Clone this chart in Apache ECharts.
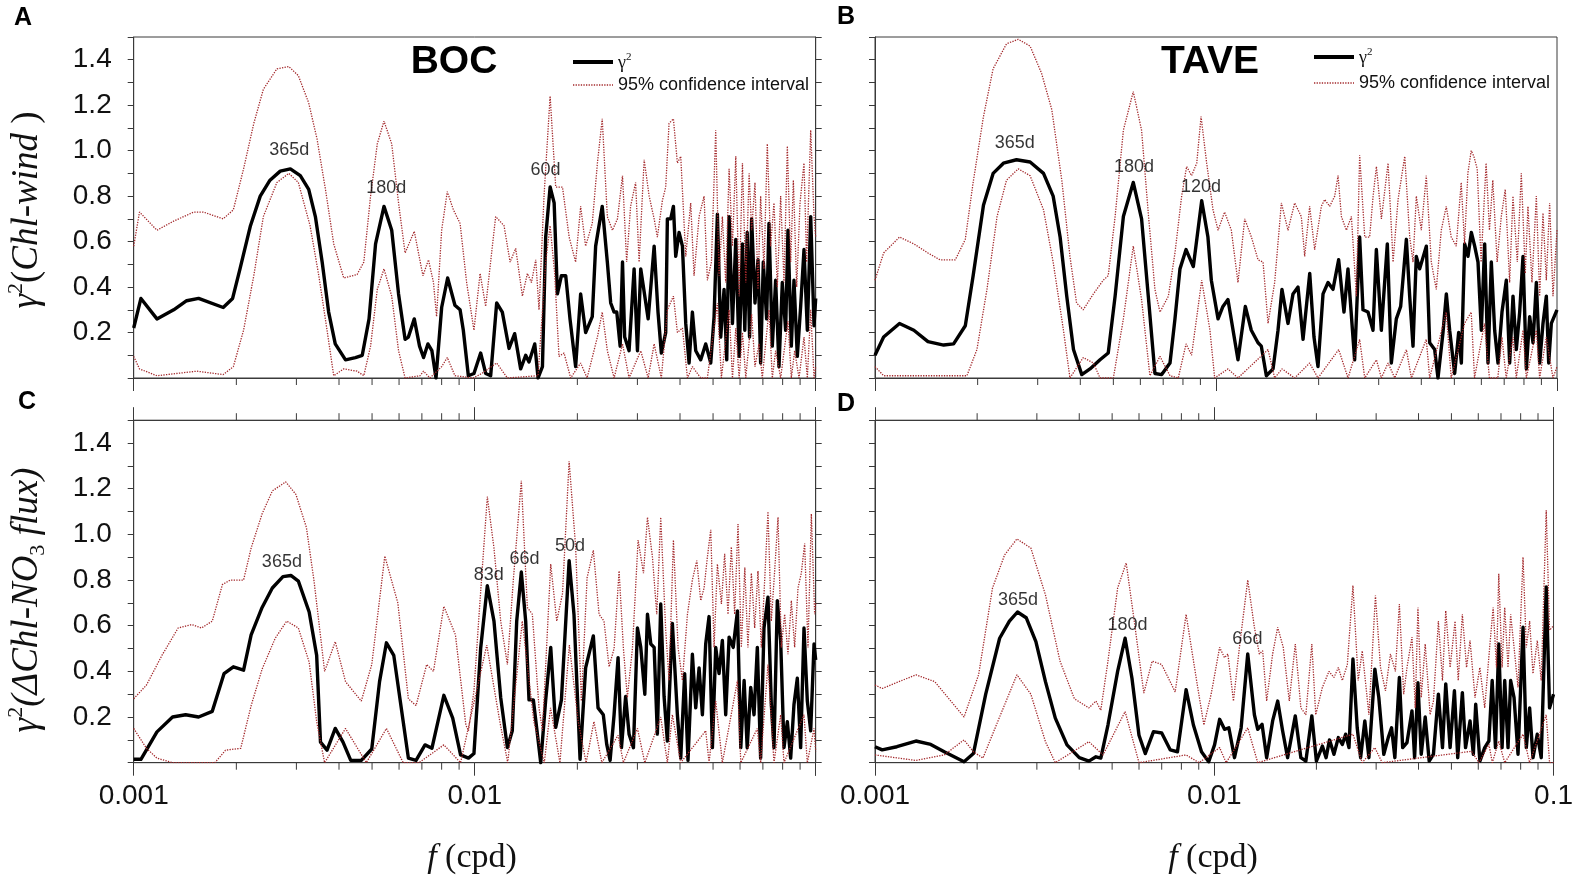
<!DOCTYPE html>
<html><head><meta charset="utf-8">
<script src="https://cdn.jsdelivr.net/npm/echarts@6/dist/echarts.min.js"></script>
<style>html,body{margin:0;padding:0;background:#fff}#chart{width:1576px;height:879px}</style>
</head><body><div id="chart"></div>
<script>
// ---------------- DATA (frequency in cpd, value of gamma^2) ----------------
const aGamma = [[0.001,0.22],[0.00105,0.35],[0.00117,0.26],[0.00131,0.30],[0.00143,0.34],[0.00155,0.35],[0.00183,0.31],[0.00195,0.35],[0.00205,0.48],[0.0022,0.67],[0.00235,0.80],[0.00251,0.87],[0.00269,0.91],[0.00288,0.92],[0.00308,0.89],[0.00326,0.83],[0.00341,0.71],[0.00357,0.51],[0.00373,0.29],[0.0039,0.15],[0.00418,0.08],[0.00447,0.09],[0.00468,0.10],[0.0049,0.26],[0.00512,0.59],[0.00542,0.755],[0.00571,0.65],[0.00598,0.37],[0.00625,0.17],[0.00639,0.18],[0.00665,0.26],[0.00689,0.14],[0.00708,0.09],[0.00729,0.15],[0.00749,0.12],[0.0077,0.0],[0.008,0.31],[0.00833,0.44],[0.00875,0.32],[0.00906,0.30],[0.00926,0.21],[0.00958,0.01],[0.00995,0.02],[0.01041,0.11],[0.01077,0.02],[0.01114,0.01],[0.0116,0.33],[0.01205,0.29],[0.01261,0.13],[0.0131,0.195],[0.01364,0.04],[0.01411,0.10],[0.01443,0.07],[0.015,0.15],[0.01534,0.0],[0.0158,0.05],[0.01615,0.62],[0.01664,0.84],[0.0171,0.77],[0.01748,0.37],[0.01796,0.45],[0.01849,0.45],[0.01903,0.26],[0.01977,0.05],[0.02045,0.37],[0.02115,0.20],[0.02212,0.27],[0.02263,0.58],[0.02366,0.755],[0.02449,0.51],[0.02505,0.33],[0.02563,0.29],[0.0261,0.29],[0.0267,0.14],[0.02713,0.51],[0.02753,0.18],[0.02836,0.12],[0.02934,0.48],[0.03001,0.12],[0.03069,0.48],[0.03154,0.36],[0.03226,0.26],[0.03284,0.40],[0.03359,0.58],[0.03448,0.29],[0.03527,0.11],[0.03632,0.20],[0.03673,0.70],[0.03757,0.70],[0.03826,0.755],[0.03886,0.535],[0.03975,0.64],[0.04066,0.58],[0.04158,0.24],[0.04253,0.066],[0.04349,0.29],[0.04448,0.12],[0.04601,0.08],[0.04758,0.15],[0.04923,0.066],[0.05035,0.27],[0.05149,0.72],[0.05266,0.18],[0.05386,0.39],[0.05485,0.08],[0.05573,0.71],[0.057,0.24],[0.0583,0.61],[0.05963,0.095],[0.06098,0.59],[0.06196,0.21],[0.06297,0.64],[0.06398,0.18],[0.06489,0.70],[0.06637,0.33],[0.06773,0.52],[0.06895,0.066],[0.0702,0.51],[0.0718,0.26],[0.07294,0.68],[0.0746,0.14],[0.0763,0.43],[0.07804,0.05],[0.07982,0.42],[0.08164,0.21],[0.08293,0.65],[0.08483,0.14],[0.08636,0.43],[0.08833,0.095],[0.09034,0.315],[0.0924,0.565],[0.09451,0.21],[0.09668,0.71],[0.09888,0.23],[0.1,0.35]];
const aUpper = [[0.001,0.58],[0.00104,0.73],[0.00117,0.65],[0.00131,0.69],[0.0015,0.73],[0.0016,0.73],[0.00183,0.70],[0.00196,0.74],[0.0021,0.92],[0.00225,1.12],[0.0024,1.27],[0.00263,1.36],[0.00285,1.37],[0.00304,1.33],[0.00326,1.21],[0.00345,1.05],[0.00365,0.83],[0.00386,0.59],[0.00413,0.44],[0.00452,0.455],[0.00473,0.51],[0.00495,0.80],[0.00518,1.03],[0.00542,1.13],[0.00571,1.03],[0.00598,0.77],[0.00625,0.55],[0.00665,0.645],[0.00705,0.45],[0.00732,0.52],[0.00757,0.42],[0.00773,0.27],[0.008,0.65],[0.00831,0.82],[0.00866,0.74],[0.00906,0.68],[0.00947,0.42],[0.00995,0.21],[0.01037,0.46],[0.01077,0.315],[0.01152,0.71],[0.01219,0.67],[0.0127,0.51],[0.01319,0.57],[0.0138,0.36],[0.01427,0.46],[0.01467,0.42],[0.0151,0.52],[0.01544,0.30],[0.01597,0.80],[0.01664,1.24],[0.01728,0.84],[0.01809,0.84],[0.01892,0.62],[0.01977,0.51],[0.02045,0.755],[0.02115,0.58],[0.02212,0.68],[0.0229,0.945],[0.02366,1.14],[0.02449,0.71],[0.02534,0.65],[0.02622,0.70],[0.02713,0.89],[0.0279,0.51],[0.02865,0.755],[0.02964,0.86],[0.03035,0.51],[0.0314,0.96],[0.03248,0.80],[0.03359,0.70],[0.03433,0.62],[0.03551,0.78],[0.03632,0.84],[0.03715,1.12],[0.03826,1.14],[0.0393,0.945],[0.0402,0.975],[0.04158,0.535],[0.043,0.77],[0.04398,0.45],[0.0455,0.71],[0.04706,0.80],[0.04812,0.43],[0.04946,0.51],[0.05091,1.09],[0.05207,0.45],[0.05325,0.71],[0.05446,0.42],[0.05573,0.92],[0.057,0.58],[0.0583,0.975],[0.05963,0.36],[0.06098,0.945],[0.06237,0.42],[0.06379,0.90],[0.06489,0.65],[0.06637,0.86],[0.06773,0.39],[0.06895,0.80],[0.07052,0.48],[0.07212,1.03],[0.07377,0.58],[0.07545,0.77],[0.07717,0.40],[0.07893,0.80],[0.08073,0.42],[0.08257,1.02],[0.08445,0.51],[0.086,0.87],[0.08796,0.40],[0.08996,0.77],[0.0924,0.945],[0.09406,0.51],[0.09668,1.09],[0.09888,0.71],[0.1,0.62]];
const aLower = [[0.001,0.095],[0.00104,0.04],[0.00117,0.01],[0.00153,0.03],[0.00183,0.015],[0.00196,0.05],[0.0021,0.21],[0.00225,0.45],[0.0024,0.71],[0.00263,0.86],[0.00285,0.90],[0.00304,0.86],[0.00329,0.67],[0.00349,0.45],[0.00369,0.21],[0.00386,0.01],[0.00413,0.04],[0.00452,0.03],[0.00473,0.01],[0.00495,0.14],[0.00518,0.39],[0.00542,0.48],[0.00571,0.36],[0.00598,0.12],[0.00625,0.0],[0.00692,0.01],[0.00708,0.03],[0.00739,0.0],[0.008,0.05],[0.00831,0.09],[0.00875,0.01],[0.0099,0.0],[0.0105,0.02],[0.0116,0.066],[0.01247,0.0],[0.01534,0.01],[0.01615,0.51],[0.01664,0.67],[0.01716,0.46],[0.01767,0.095],[0.01828,0.11],[0.01912,0.0],[0.02045,0.066],[0.02136,0.0],[0.0229,0.18],[0.02366,0.29],[0.02449,0.12],[0.02563,0.0],[0.02713,0.15],[0.02836,0.0],[0.03069,0.12],[0.03226,0.0],[0.03359,0.15],[0.03527,0.0],[0.03673,0.30],[0.03826,0.36],[0.0393,0.20],[0.04066,0.22],[0.04206,0.0],[0.04349,0.05],[0.04601,0.0],[0.04812,0.0],[0.05149,0.33],[0.0529,0.0],[0.05573,0.30],[0.057,0.0],[0.0583,0.22],[0.05963,0.0],[0.06098,0.20],[0.06237,0.0],[0.06489,0.28],[0.06637,0.05],[0.06819,0.15],[0.06972,0.0],[0.07294,0.30],[0.0746,0.0],[0.0763,0.12],[0.07893,0.0],[0.08293,0.25],[0.08483,0.0],[0.08675,0.12],[0.08936,0.0],[0.0924,0.18],[0.09451,0.0],[0.09668,0.30],[0.09888,0.0],[0.1,0.05]];

const bGamma = [[0.001,0.10],[0.00106,0.18],[0.00118,0.24],[0.0013,0.21],[0.00143,0.16],[0.00159,0.145],[0.0017,0.15],[0.00184,0.23],[0.00194,0.45],[0.00208,0.76],[0.00222,0.90],[0.00238,0.945],[0.0026,0.96],[0.00285,0.95],[0.00312,0.90],[0.00333,0.80],[0.00349,0.62],[0.00365,0.36],[0.00382,0.125],[0.00404,0.015],[0.00427,0.04],[0.00457,0.08],[0.00483,0.11],[0.00506,0.36],[0.00535,0.71],[0.00572,0.86],[0.00605,0.70],[0.00633,0.36],[0.00662,0.02],[0.00693,0.015],[0.00733,0.066],[0.00758,0.26],[0.00784,0.48],[0.00817,0.565],[0.00858,0.49],[0.00908,0.78],[0.00947,0.62],[0.00969,0.43],[0.01014,0.26],[0.01048,0.315],[0.01084,0.345],[0.0116,0.08],[0.01219,0.315],[0.01269,0.21],[0.01328,0.155],[0.01358,0.14],[0.01405,0.01],[0.0147,0.04],[0.0152,0.21],[0.01561,0.39],[0.01626,0.24],[0.01682,0.37],[0.0174,0.40],[0.018,0.17],[0.01883,0.46],[0.01938,0.18],[0.01991,0.05],[0.0206,0.37],[0.02131,0.42],[0.02203,0.39],[0.02289,0.52],[0.02373,0.29],[0.02438,0.48],[0.0255,0.08],[0.02638,0.62],[0.02698,0.30],[0.02791,0.29],[0.02887,0.21],[0.02953,0.565],[0.03054,0.21],[0.0318,0.59],[0.03267,0.066],[0.03379,0.26],[0.0348,0.315],[0.03616,0.61],[0.03698,0.36],[0.03782,0.14],[0.03867,0.535],[0.03956,0.48],[0.04138,0.58],[0.04232,0.155],[0.04378,0.125],[0.04477,0.0],[0.04631,0.20],[0.04737,0.37],[0.04844,0.21],[0.05011,0.02],[0.05148,0.20],[0.05242,0.066],[0.05361,0.59],[0.05483,0.535],[0.05608,0.64],[0.05736,0.58],[0.05866,0.51],[0.05999,0.21],[0.06136,0.59],[0.06276,0.066],[0.06418,0.51],[0.06564,0.21],[0.06714,0.066],[0.06897,0.29],[0.07102,0.43],[0.07264,0.066],[0.0743,0.36],[0.07598,0.125],[0.07772,0.29],[0.07949,0.535],[0.08131,0.04],[0.08315,0.27],[0.08505,0.155],[0.08698,0.42],[0.08897,0.066],[0.09098,0.24],[0.09305,0.36],[0.09455,0.066],[0.09625,0.24],[0.1,0.30]];
const bUpper = [[0.001,0.43],[0.00106,0.55],[0.00118,0.62],[0.0013,0.59],[0.00143,0.55],[0.00155,0.52],[0.00172,0.52],[0.00184,0.61],[0.00194,0.86],[0.00208,1.15],[0.00222,1.36],[0.00243,1.47],[0.00263,1.49],[0.00285,1.46],[0.00308,1.34],[0.0033,1.18],[0.00353,0.87],[0.00373,0.535],[0.0039,0.33],[0.00408,0.30],[0.00437,0.37],[0.00467,0.43],[0.00483,0.45],[0.00506,0.71],[0.00535,1.09],[0.00572,1.26],[0.00605,1.09],[0.00633,0.725],[0.00662,0.39],[0.00685,0.29],[0.00725,0.36],[0.00758,0.55],[0.00793,0.80],[0.0082,0.93],[0.00848,0.89],[0.00878,0.945],[0.00904,1.15],[0.00939,0.945],[0.0098,0.74],[0.01014,0.65],[0.0106,0.73],[0.01109,0.65],[0.0116,0.42],[0.01214,0.70],[0.0127,0.62],[0.01328,0.52],[0.01374,0.51],[0.01421,0.24],[0.01486,0.42],[0.01555,0.77],[0.01626,0.65],[0.01701,0.77],[0.01779,0.71],[0.0182,0.535],[0.01882,0.755],[0.01947,0.565],[0.02037,0.755],[0.02083,0.785],[0.02154,0.755],[0.02229,0.80],[0.0228,0.89],[0.02332,0.71],[0.02412,0.65],[0.02495,0.71],[0.0258,0.36],[0.02638,0.98],[0.0273,0.62],[0.02822,0.62],[0.02889,0.80],[0.02954,0.93],[0.03055,0.70],[0.03196,0.945],[0.03306,0.51],[0.03419,0.785],[0.03577,0.975],[0.03699,0.62],[0.03783,0.51],[0.03868,0.80],[0.04,0.65],[0.04137,0.89],[0.04279,0.51],[0.04426,0.39],[0.04577,0.65],[0.04734,0.755],[0.04896,0.62],[0.05064,0.58],[0.05237,0.86],[0.05356,0.59],[0.05478,0.90],[0.05603,1.0],[0.05704,0.975],[0.05834,0.92],[0.0599,0.51],[0.06196,0.945],[0.06337,0.65],[0.06482,0.87],[0.06675,0.51],[0.06864,0.71],[0.07052,0.83],[0.07262,0.42],[0.07428,0.80],[0.07649,0.51],[0.07858,0.90],[0.08073,0.46],[0.08219,0.755],[0.08445,0.42],[0.08698,0.80],[0.08895,0.36],[0.09097,0.725],[0.09304,0.43],[0.09516,0.77],[0.09733,0.36],[0.1,0.65]];
const bLower = [[0.001,0.05],[0.00106,0.01],[0.00186,0.01],[0.00199,0.125],[0.00213,0.39],[0.00228,0.71],[0.00243,0.87],[0.00263,0.92],[0.00285,0.89],[0.00312,0.74],[0.00333,0.51],[0.00357,0.21],[0.00373,0.0],[0.00408,0.09],[0.00437,0.066],[0.00457,0.0],[0.005,0.0],[0.00535,0.26],[0.00572,0.58],[0.00605,0.345],[0.0064,0.01],[0.00685,0.095],[0.00733,0.01],[0.00775,0.0],[0.00817,0.15],[0.00848,0.10],[0.00908,0.43],[0.0096,0.21],[0.00991,0.0],[0.01084,0.04],[0.0116,0.0],[0.01421,0.125],[0.01486,0.0],[0.01562,0.04],[0.01701,0.0],[0.01882,0.066],[0.01991,0.0],[0.0229,0.125],[0.02439,0.0],[0.02638,0.17],[0.0273,0.0],[0.02954,0.08],[0.03055,0.0],[0.03196,0.066],[0.03343,0.0],[0.03617,0.125],[0.03741,0.0],[0.04137,0.17],[0.04232,0.0],[0.04734,0.29],[0.04896,0.0],[0.05356,0.24],[0.05603,0.29],[0.0573,0.0],[0.06126,0.24],[0.06337,0.0],[0.06706,0.0],[0.06895,0.18],[0.07097,0.0],[0.07428,0.18],[0.07597,0.0],[0.07948,0.21],[0.0813,0.0],[0.08698,0.21],[0.08895,0.0],[0.09304,0.18],[0.09733,0.0],[0.1,0.05]];

const cGamma = [[0.001,0.015],[0.00105,0.015],[0.00117,0.135],[0.0013,0.20],[0.00142,0.21],[0.00155,0.20],[0.0017,0.225],[0.00184,0.39],[0.00196,0.42],[0.0021,0.405],[0.00221,0.56],[0.00238,0.68],[0.00255,0.765],[0.00274,0.815],[0.00289,0.82],[0.00304,0.795],[0.00327,0.66],[0.00344,0.47],[0.00353,0.09],[0.00369,0.055],[0.0039,0.15],[0.00411,0.09],[0.00433,0.01],[0.00465,0.01],[0.00499,0.06],[0.00526,0.355],[0.00551,0.525],[0.00579,0.47],[0.00617,0.18],[0.00639,0.02],[0.00673,0.01],[0.00715,0.078],[0.00749,0.063],[0.00812,0.295],[0.00862,0.195],[0.00909,0.034],[0.00959,0.02],[0.00995,0.04],[0.01041,0.50],[0.01089,0.775],[0.01139,0.62],[0.01192,0.285],[0.01247,0.066],[0.01289,0.14],[0.01328,0.62],[0.0137,0.835],[0.01411,0.62],[0.01443,0.275],[0.01486,0.275],[0.01527,0.125],[0.01562,0.0],[0.01615,0.275],[0.01671,0.505],[0.01728,0.155],[0.01796,0.275],[0.01892,0.885],[0.01955,0.65],[0.02037,0.015],[0.02115,0.415],[0.02228,0.555],[0.023,0.24],[0.02383,0.21],[0.02439,0.08],[0.02495,0.01],[0.02563,0.21],[0.02633,0.46],[0.02694,0.066],[0.02771,0.29],[0.02836,0.125],[0.02921,0.066],[0.03001,0.59],[0.03069,0.505],[0.03154,0.30],[0.03211,0.65],[0.03284,0.52],[0.03359,0.505],[0.03433,0.125],[0.03512,0.695],[0.03592,0.29],[0.03673,0.095],[0.03799,0.61],[0.0393,0.21],[0.0402,0.02],[0.04128,0.39],[0.04222,0.01],[0.04349,0.475],[0.04448,0.24],[0.0455,0.415],[0.04653,0.21],[0.04758,0.52],[0.04867,0.64],[0.04978,0.066],[0.05091,0.505],[0.05207,0.39],[0.05325,0.535],[0.05446,0.21],[0.05573,0.55],[0.0573,0.505],[0.05896,0.665],[0.0603,0.066],[0.06167,0.36],[0.06297,0.066],[0.06448,0.33],[0.06594,0.21],[0.06743,0.505],[0.06895,0.02],[0.07052,0.59],[0.07245,0.725],[0.07411,0.255],[0.07545,0.066],[0.07717,0.71],[0.07893,0.535],[0.08073,0.066],[0.08257,0.18],[0.08445,0.02],[0.08636,0.255],[0.08833,0.37],[0.09034,0.066],[0.0924,0.59],[0.09451,0.27],[0.09668,0.14],[0.09888,0.52],[0.1,0.45]];
const cUpper = [[0.001,0.28],[0.00109,0.34],[0.00121,0.47],[0.00135,0.59],[0.00148,0.605],[0.00158,0.59],[0.0017,0.62],[0.00182,0.78],[0.00192,0.80],[0.0021,0.80],[0.00221,0.94],[0.00238,1.09],[0.00255,1.19],[0.00279,1.23],[0.00299,1.175],[0.00321,1.03],[0.00338,0.795],[0.00363,0.40],[0.0039,0.53],[0.00418,0.355],[0.00465,0.27],[0.00499,0.43],[0.00545,0.905],[0.00595,0.70],[0.00639,0.28],[0.00673,0.25],[0.00723,0.43],[0.00757,0.40],[0.00812,0.685],[0.00878,0.56],[0.00942,0.165],[0.00959,0.14],[0.00995,0.315],[0.0103,0.65],[0.01089,1.165],[0.01139,0.94],[0.01192,0.62],[0.01247,0.43],[0.01298,0.80],[0.0137,1.235],[0.01427,0.68],[0.01476,0.65],[0.01544,0.24],[0.0158,0.14],[0.01671,0.87],[0.0174,0.62],[0.01809,0.74],[0.01892,1.32],[0.01977,0.945],[0.02055,0.27],[0.02136,0.81],[0.02228,0.93],[0.02316,0.65],[0.02394,0.62],[0.02478,0.42],[0.02563,0.50],[0.02651,0.84],[0.0273,0.50],[0.02803,0.285],[0.02901,0.50],[0.03014,0.975],[0.03126,0.83],[0.03211,1.075],[0.03321,0.90],[0.03419,0.65],[0.03512,1.075],[0.03632,0.58],[0.03715,0.36],[0.03826,0.975],[0.03948,0.505],[0.04066,0.36],[0.04206,0.65],[0.04349,0.80],[0.0448,0.885],[0.04601,0.71],[0.04706,0.765],[0.04812,0.90],[0.04923,1.02],[0.05035,0.505],[0.05149,0.87],[0.0529,0.695],[0.05408,0.915],[0.05531,0.65],[0.05657,0.945],[0.05786,0.65],[0.05918,1.045],[0.06052,0.505],[0.06196,0.855],[0.06327,0.505],[0.06477,0.83],[0.06623,0.59],[0.06773,0.84],[0.06927,0.505],[0.07086,0.80],[0.07245,1.10],[0.07411,0.62],[0.0758,0.84],[0.07753,1.075],[0.07929,0.505],[0.0811,0.65],[0.08293,0.475],[0.08483,0.71],[0.08675,0.505],[0.08873,0.765],[0.09075,0.83],[0.09282,0.96],[0.09493,0.505],[0.0971,1.09],[0.0993,0.65],[0.1,0.70]];
const cLower = [[0.001,0.15],[0.00109,0.063],[0.00117,0.02],[0.0013,0.0],[0.00173,0.0],[0.00186,0.055],[0.00206,0.063],[0.00221,0.25],[0.00238,0.41],[0.0026,0.545],[0.00281,0.62],[0.00304,0.59],[0.00327,0.44],[0.00344,0.18],[0.00363,0.0],[0.00418,0.15],[0.00481,0.0],[0.00551,0.15],[0.00617,0.0],[0.00686,0.0],[0.00812,0.078],[0.00909,0.0],[0.01085,0.515],[0.01185,0.18],[0.0125,0.0],[0.01379,0.62],[0.01491,0.18],[0.016,0.0],[0.01669,0.24],[0.01778,0.0],[0.01895,0.515],[0.02012,0.18],[0.02122,0.0],[0.02237,0.18],[0.0236,0.0],[0.02633,0.12],[0.0273,0.0],[0.03001,0.15],[0.03154,0.0],[0.03512,0.20],[0.03673,0.0],[0.03799,0.21],[0.0402,0.0],[0.04758,0.14],[0.04867,0.0],[0.05091,0.27],[0.05325,0.0],[0.05896,0.36],[0.0603,0.0],[0.06743,0.15],[0.06895,0.0],[0.07245,0.43],[0.07545,0.0],[0.07893,0.21],[0.08073,0.0],[0.0924,0.21],[0.09451,0.0],[0.09888,0.15],[0.1,0.05]];

const dGamma = [[0.001,0.07],[0.00105,0.056],[0.00116,0.07],[0.00132,0.095],[0.00146,0.08],[0.0016,0.048],[0.00183,0.004],[0.00195,0.04],[0.00212,0.30],[0.00233,0.545],[0.00249,0.62],[0.00263,0.66],[0.00279,0.635],[0.00298,0.53],[0.00318,0.355],[0.0034,0.195],[0.00368,0.078],[0.004,0.022],[0.00427,0.007],[0.00448,0.026],[0.00463,0.02],[0.00486,0.165],[0.00519,0.40],[0.00546,0.545],[0.00572,0.37],[0.006,0.12],[0.00626,0.04],[0.00662,0.136],[0.007,0.13],[0.00742,0.056],[0.00779,0.048],[0.00826,0.32],[0.00868,0.165],[0.00917,0.048],[0.00963,0.004],[0.01002,0.078],[0.01037,0.19],[0.01072,0.146],[0.01104,0.153],[0.01147,0.022],[0.012,0.153],[0.01255,0.476],[0.01313,0.21],[0.01343,0.146],[0.01383,0.168],[0.01427,0.022],[0.01486,0.183],[0.01538,0.27],[0.0159,0.14],[0.01645,0.022],[0.01733,0.205],[0.018,0.022],[0.01862,0.007],[0.01939,0.205],[0.02,0.007],[0.02083,0.073],[0.02136,0.022],[0.02186,0.10],[0.02253,0.037],[0.02321,0.11],[0.02385,0.08],[0.02439,0.125],[0.02495,0.066],[0.02563,0.454],[0.02638,0.153],[0.027,0.022],[0.02778,0.183],[0.02856,0.022],[0.02974,0.41],[0.03055,0.285],[0.0316,0.037],[0.03257,0.11],[0.03331,0.153],[0.03406,0.022],[0.03512,0.373],[0.03592,0.066],[0.03699,0.088],[0.03826,0.227],[0.03895,0.022],[0.03984,0.35],[0.04074,0.037],[0.04186,0.20],[0.043,0.007],[0.04426,0.037],[0.04577,0.30],[0.04706,0.066],[0.04812,0.345],[0.04956,0.066],[0.05103,0.315],[0.05219,0.022],[0.05386,0.307],[0.05503,0.066],[0.05674,0.183],[0.05803,0.037],[0.05896,0.256],[0.06066,0.007],[0.06268,0.066],[0.06448,0.095],[0.06594,0.36],[0.06743,0.066],[0.06895,0.52],[0.07052,0.066],[0.0718,0.36],[0.07343,0.066],[0.07474,0.36],[0.07649,0.285],[0.07858,0.037],[0.0813,0.593],[0.08313,0.066],[0.08502,0.24],[0.08698,0.022],[0.08956,0.125],[0.09199,0.022],[0.09516,0.77],[0.09733,0.24],[0.1,0.30]];
const dUpper = [[0.001,0.34],[0.00105,0.325],[0.00132,0.385],[0.0015,0.355],[0.00183,0.20],[0.00202,0.385],[0.00222,0.765],[0.00241,0.91],[0.00262,0.98],[0.00288,0.94],[0.00318,0.735],[0.00351,0.445],[0.00387,0.28],[0.00427,0.24],[0.00448,0.27],[0.00463,0.23],[0.00486,0.445],[0.00519,0.765],[0.0055,0.875],[0.00581,0.62],[0.0062,0.305],[0.00656,0.445],[0.007,0.43],[0.00767,0.31],[0.00826,0.65],[0.00888,0.355],[0.00932,0.165],[0.00979,0.30],[0.01037,0.505],[0.01072,0.46],[0.01097,0.476],[0.01139,0.27],[0.01186,0.505],[0.01255,0.80],[0.01313,0.593],[0.01358,0.476],[0.01389,0.49],[0.01427,0.27],[0.01486,0.476],[0.01538,0.593],[0.01597,0.505],[0.01664,0.27],[0.01733,0.52],[0.018,0.24],[0.01862,0.21],[0.01939,0.52],[0.01991,0.21],[0.02083,0.33],[0.02178,0.40],[0.02253,0.373],[0.02321,0.417],[0.02385,0.36],[0.02467,0.43],[0.02563,0.776],[0.02656,0.36],[0.0273,0.49],[0.02856,0.21],[0.02986,0.732],[0.0309,0.417],[0.03196,0.315],[0.03306,0.476],[0.03419,0.40],[0.03512,0.695],[0.03617,0.30],[0.03699,0.417],[0.03826,0.55],[0.03912,0.24],[0.03984,0.68],[0.04074,0.285],[0.04186,0.52],[0.04327,0.21],[0.04426,0.27],[0.04577,0.62],[0.04706,0.36],[0.04812,0.666],[0.04956,0.417],[0.05126,0.62],[0.05237,0.36],[0.05386,0.65],[0.05541,0.417],[0.05674,0.535],[0.05869,0.285],[0.06066,0.417],[0.06268,0.24],[0.06482,0.505],[0.06638,0.68],[0.06789,0.417],[0.06895,0.827],[0.07052,0.417],[0.0718,0.68],[0.07343,0.417],[0.07474,0.65],[0.07649,0.505],[0.07858,0.33],[0.0813,0.90],[0.08313,0.505],[0.08502,0.62],[0.08698,0.39],[0.08956,0.535],[0.09199,0.36],[0.09516,1.105],[0.09733,0.58],[0.1,0.60]];
const dLower = [[0.001,0.034],[0.00132,0.01],[0.0016,0.034],[0.00183,0.10],[0.00195,0.048],[0.00208,0.02],[0.0023,0.18],[0.00262,0.385],[0.00288,0.30],[0.00318,0.092],[0.0034,0.0],[0.00427,0.092],[0.0047,0.034],[0.00546,0.224],[0.006,0.0],[0.00826,0.034],[0.00902,0.0],[0.01037,0.066],[0.01084,0.0],[0.01255,0.153],[0.01343,0.0],[0.02563,0.125],[0.0273,0.0],[0.02974,0.066],[0.03126,0.0],[0.0573,0.05],[0.0603,0.0],[0.0645,0.08],[0.066,0.0],[0.06895,0.095],[0.0718,0.0],[0.0813,0.125],[0.08502,0.0],[0.09516,0.21],[0.09733,0.0],[0.1,0.0]];

// peak annotations: [text, frequency, gamma^2 level of the label]
const annotA = [['365d',0.00286,1.003],['180d',0.0055,0.836],['60d',0.01613,0.915]];
const annotB = [['365d',0.00257,1.033],['180d',0.00575,0.93],['120d',0.00904,0.842]];
const annotC = [['365d',0.00272,0.88],['83d',0.01099,0.822],['66d',0.014,0.891],['50d',0.01903,0.949]];
const annotD = [['365d',0.00264,0.713],['180d',0.00555,0.603],['66d',0.01252,0.542]];

const panelTitles = ['BOC','TAVE'];
const panelLetters = ['A','B','C','D'];
const xTickLabels = {'-3':'0.001','-2':'0.01','-1':'0.1'};
const xMinorTicks = [0.002,0.003,0.004,0.005,0.006,0.007,0.008,0.009,0.02,0.03,0.04,0.05,0.06,0.07,0.08,0.09];
const yTickLabels = ['0.2','0.4','0.6','0.8','1.0','1.2','1.4'];
const gammaName = 'γ2';
const ciName = '95% confidence interval';

// ---------------- CHART ----------------
const SANS = "'Liberation Sans', Arial, sans-serif";
const SERIF = "'Liberation Serif', 'Times New Roman', serif";
const AX = '#3a3a3a';
const RED = '#a3282b';
const grids = [
  {left:133.7, top:37, width:682, height:341},
  {left:875, top:37, width:682, height:341},
  {left:133.7, top:420.2, width:682, height:342.5},
  {left:875, top:420.2, width:682, height:342.5}
].map(g => Object.assign({show:true, borderColor:AX, borderWidth:1, backgroundColor:'transparent'}, g));

function xAxisDef(gi, opts) {
  return Object.assign({
    type:'log', logBase:10, min:0.001, max:0.1, gridIndex:gi, position:'bottom',
    axisLine:{show:true, onZero:false, lineStyle:{color:AX, width:1}},
    axisTick:{show:true, inside:false, length:13, lineStyle:{color:AX}},
    splitLine:{show:false}, minorTick:{show:false},
    axisLabel:{show:false}
  }, opts);
}
const xLabel = (showTenth) => ({
  show:true, margin:20, fontSize:28, fontFamily:SANS, color:'#111', showMinLabel:true, showMaxLabel:true,
  formatter: v => { const e = String(Math.round(Math.log10(v))); if (e === '-1' && !showTenth) return ''; return xTickLabels[e] || ''; }
});
const xAxes = [
  xAxisDef(0, {}),
  xAxisDef(1, {}),
  xAxisDef(2, {axisLabel:xLabel(false)}),
  xAxisDef(3, {axisLabel:xLabel(true)}),
  xAxisDef(2, {position:'top'}),
  xAxisDef(3, {position:'top'})
];
function yAxisDef(gi, opts) {
  return Object.assign({
    type:'value', min:0, max:1.5, interval:0.1, gridIndex:gi, position:'left',
    axisLine:{show:true, onZero:false, lineStyle:{color:AX, width:1}},
    axisTick:{show:true, inside:false, length:6, lineStyle:{color:AX}},
    splitLine:{show:false},
    axisLabel:{show:false}
  }, opts);
}
const yLabel = {
  show:true, margin:22, fontSize:28, fontFamily:SANS, color:'#111',
  formatter: v => { const s = v.toFixed(1); return yTickLabels.includes(s) ? s : ''; }
};
const yAxes = [
  yAxisDef(0, {axisLabel:yLabel}),
  yAxisDef(1, {}),
  yAxisDef(2, {axisLabel:yLabel}),
  yAxisDef(3, {}),
  yAxisDef(0, {position:'right'}),
  yAxisDef(2, {position:'right'})
];

const panels = [
  {g:aGamma, u:aUpper, l:aLower, a:annotA},
  {g:bGamma, u:bUpper, l:bLower, a:annotB},
  {g:cGamma, u:cUpper, l:cLower, a:annotC},
  {g:dGamma, u:dUpper, l:dLower, a:annotD}
];
const series = [];
panels.forEach((p, i) => {
  series.push({name:gammaName, type:'line', xAxisIndex:i, yAxisIndex:i, data:p.g, symbol:'none', z:3,
    lineStyle:{color:'#000', width:3.4, join:'round'}, itemStyle:{color:'#000'}});
  [p.u, p.l].forEach(d => series.push({name:ciName, type:'line', xAxisIndex:i, yAxisIndex:i, data:d, symbol:'none', z:4,
    lineStyle:{color:RED, width:1.3, type:'dotted'}, itemStyle:{color:RED}}));
  series.push({type:'scatter', xAxisIndex:i, yAxisIndex:i, silent:true, symbolSize:1, z:6,
    itemStyle:{color:'rgba(0,0,0,0)'},
    data:p.a.map(a => [a[1], a[2], a[0]]),
    label:{show:true, position:'inside', formatter: q => q.value[2], fontSize:18, fontFamily:SANS, color:'#000'}});
});
// minor log ticks (2..9 x 10^k) drawn at the axis values through the axis scale
function minorTicks(xi, yi, top) {
  return {type:'custom', xAxisIndex:xi, yAxisIndex:yi, silent:true, clip:false, z:7,
    data:xMinorTicks.map(v => [v, top ? 1.5 : 0]), encode:{x:0, y:1},
    renderItem:(params, api) => {
      const pt = api.coord([api.value(0), api.value(1)]);
      return {type:'line', shape:{x1:pt[0], y1:pt[1], x2:pt[0], y2:pt[1] + (top ? -7 : 7)},
        style:{stroke:AX, lineWidth:1}};
    }};
}
series.push(minorTicks(0,0,false), minorTicks(1,1,false), minorTicks(2,2,false), minorTicks(3,3,false), minorTicks(2,2,true), minorTicks(3,3,true));

const legendText = {fontSize:18, fontFamily:SANS, color:'#111',
  rich:{g:{fontSize:18, fontFamily:SERIF, color:'#111', lineHeight:20, verticalAlign:'bottom'},
        s:{fontSize:11, fontFamily:SERIF, color:'#111', lineHeight:20, verticalAlign:'top'}}};
const legendFmt = n => n === gammaName ? '{g|γ}{s|2}' : n;
const legendData = [
  {name:gammaName, lineStyle:{width:4, color:'#000'}},
  {name:ciName, lineStyle:{width:1.3, color:RED, type:'dotted'}}
];
const legendCommon = {orient:'vertical', itemWidth:40, itemHeight:14, selectedMode:false,
  itemStyle:{opacity:0, borderWidth:0}, data:legendData, formatter:legendFmt, textStyle:legendText};
const legends = [
  Object.assign({left:566, top:47, itemGap:4}, legendCommon),
  Object.assign({left:1307, top:42, itemGap:7}, legendCommon)
];

function txt(x, y, text, font, extra) {
  return {type:'text', x:x, y:y, silent:true, z:10,
    style:Object.assign({text:text, font:font, fill:'#000', align:'center', verticalAlign:'middle',
      textAlign:'center', textVerticalAlign:'middle'}, extra || {})};
}
const nameRich = {
  g:{fontFamily:SERIF, fontStyle:'italic', fontSize:37, lineHeight:44, fill:'#111'},
  s:{fontFamily:SERIF, fontSize:22, lineHeight:44, verticalAlign:'top', fill:'#111'},
  b:{fontFamily:SERIF, fontSize:22, lineHeight:44, verticalAlign:'bottom', fill:'#111'},
  p:{fontFamily:SERIF, fontSize:37, lineHeight:44, fill:'#111'},
  i:{fontFamily:SERIF, fontStyle:'italic', fontSize:37, lineHeight:44, fill:'#111'}
};
const axRich = {i:{fontFamily:SERIF, fontStyle:'italic', fontSize:34, fill:'#111'}, p:{fontFamily:SERIF, fontSize:34, fill:'#111'}};
const graphics = [
  txt(23, 18, panelLetters[0], 'bold 25px ' + SANS),
  txt(846, 17, panelLetters[1], 'bold 25px ' + SANS),
  txt(27, 402, panelLetters[2], 'bold 25px ' + SANS),
  txt(846, 404, panelLetters[3], 'bold 25px ' + SANS),
  txt(454, 62, panelTitles[0], 'bold 39px ' + SANS),
  txt(1210, 62, panelTitles[1], 'bold 39px ' + SANS),
  Object.assign(txt(27, 210, '{g|γ}{s|2}{p|(}{i|Chl-wind}{p| )}', '37px ' + SERIF, {rich:nameRich}), {rotation:Math.PI/2}),
  Object.assign(txt(27, 600, '{g|γ}{s|2}{i|(ΔChl-NO}{b|3}{i| flux)}', '37px ' + SERIF, {rich:nameRich}), {rotation:Math.PI/2}),
  txt(472, 858, '{i|f} {p|(cpd)}', '34px ' + SERIF, {rich:axRich}),
  txt(1213, 858, '{i|f} {p|(cpd)}', '34px ' + SERIF, {rich:axRich})
];

const chart = echarts.init(document.getElementById('chart'), null, {renderer:'canvas'});
chart.setOption({
  animation:false,
  backgroundColor:'#fff',
  grid:grids,
  xAxis:xAxes,
  yAxis:yAxes,
  legend:legends,
  series:series,
  graphic:graphics
});
</script>
</body></html>
